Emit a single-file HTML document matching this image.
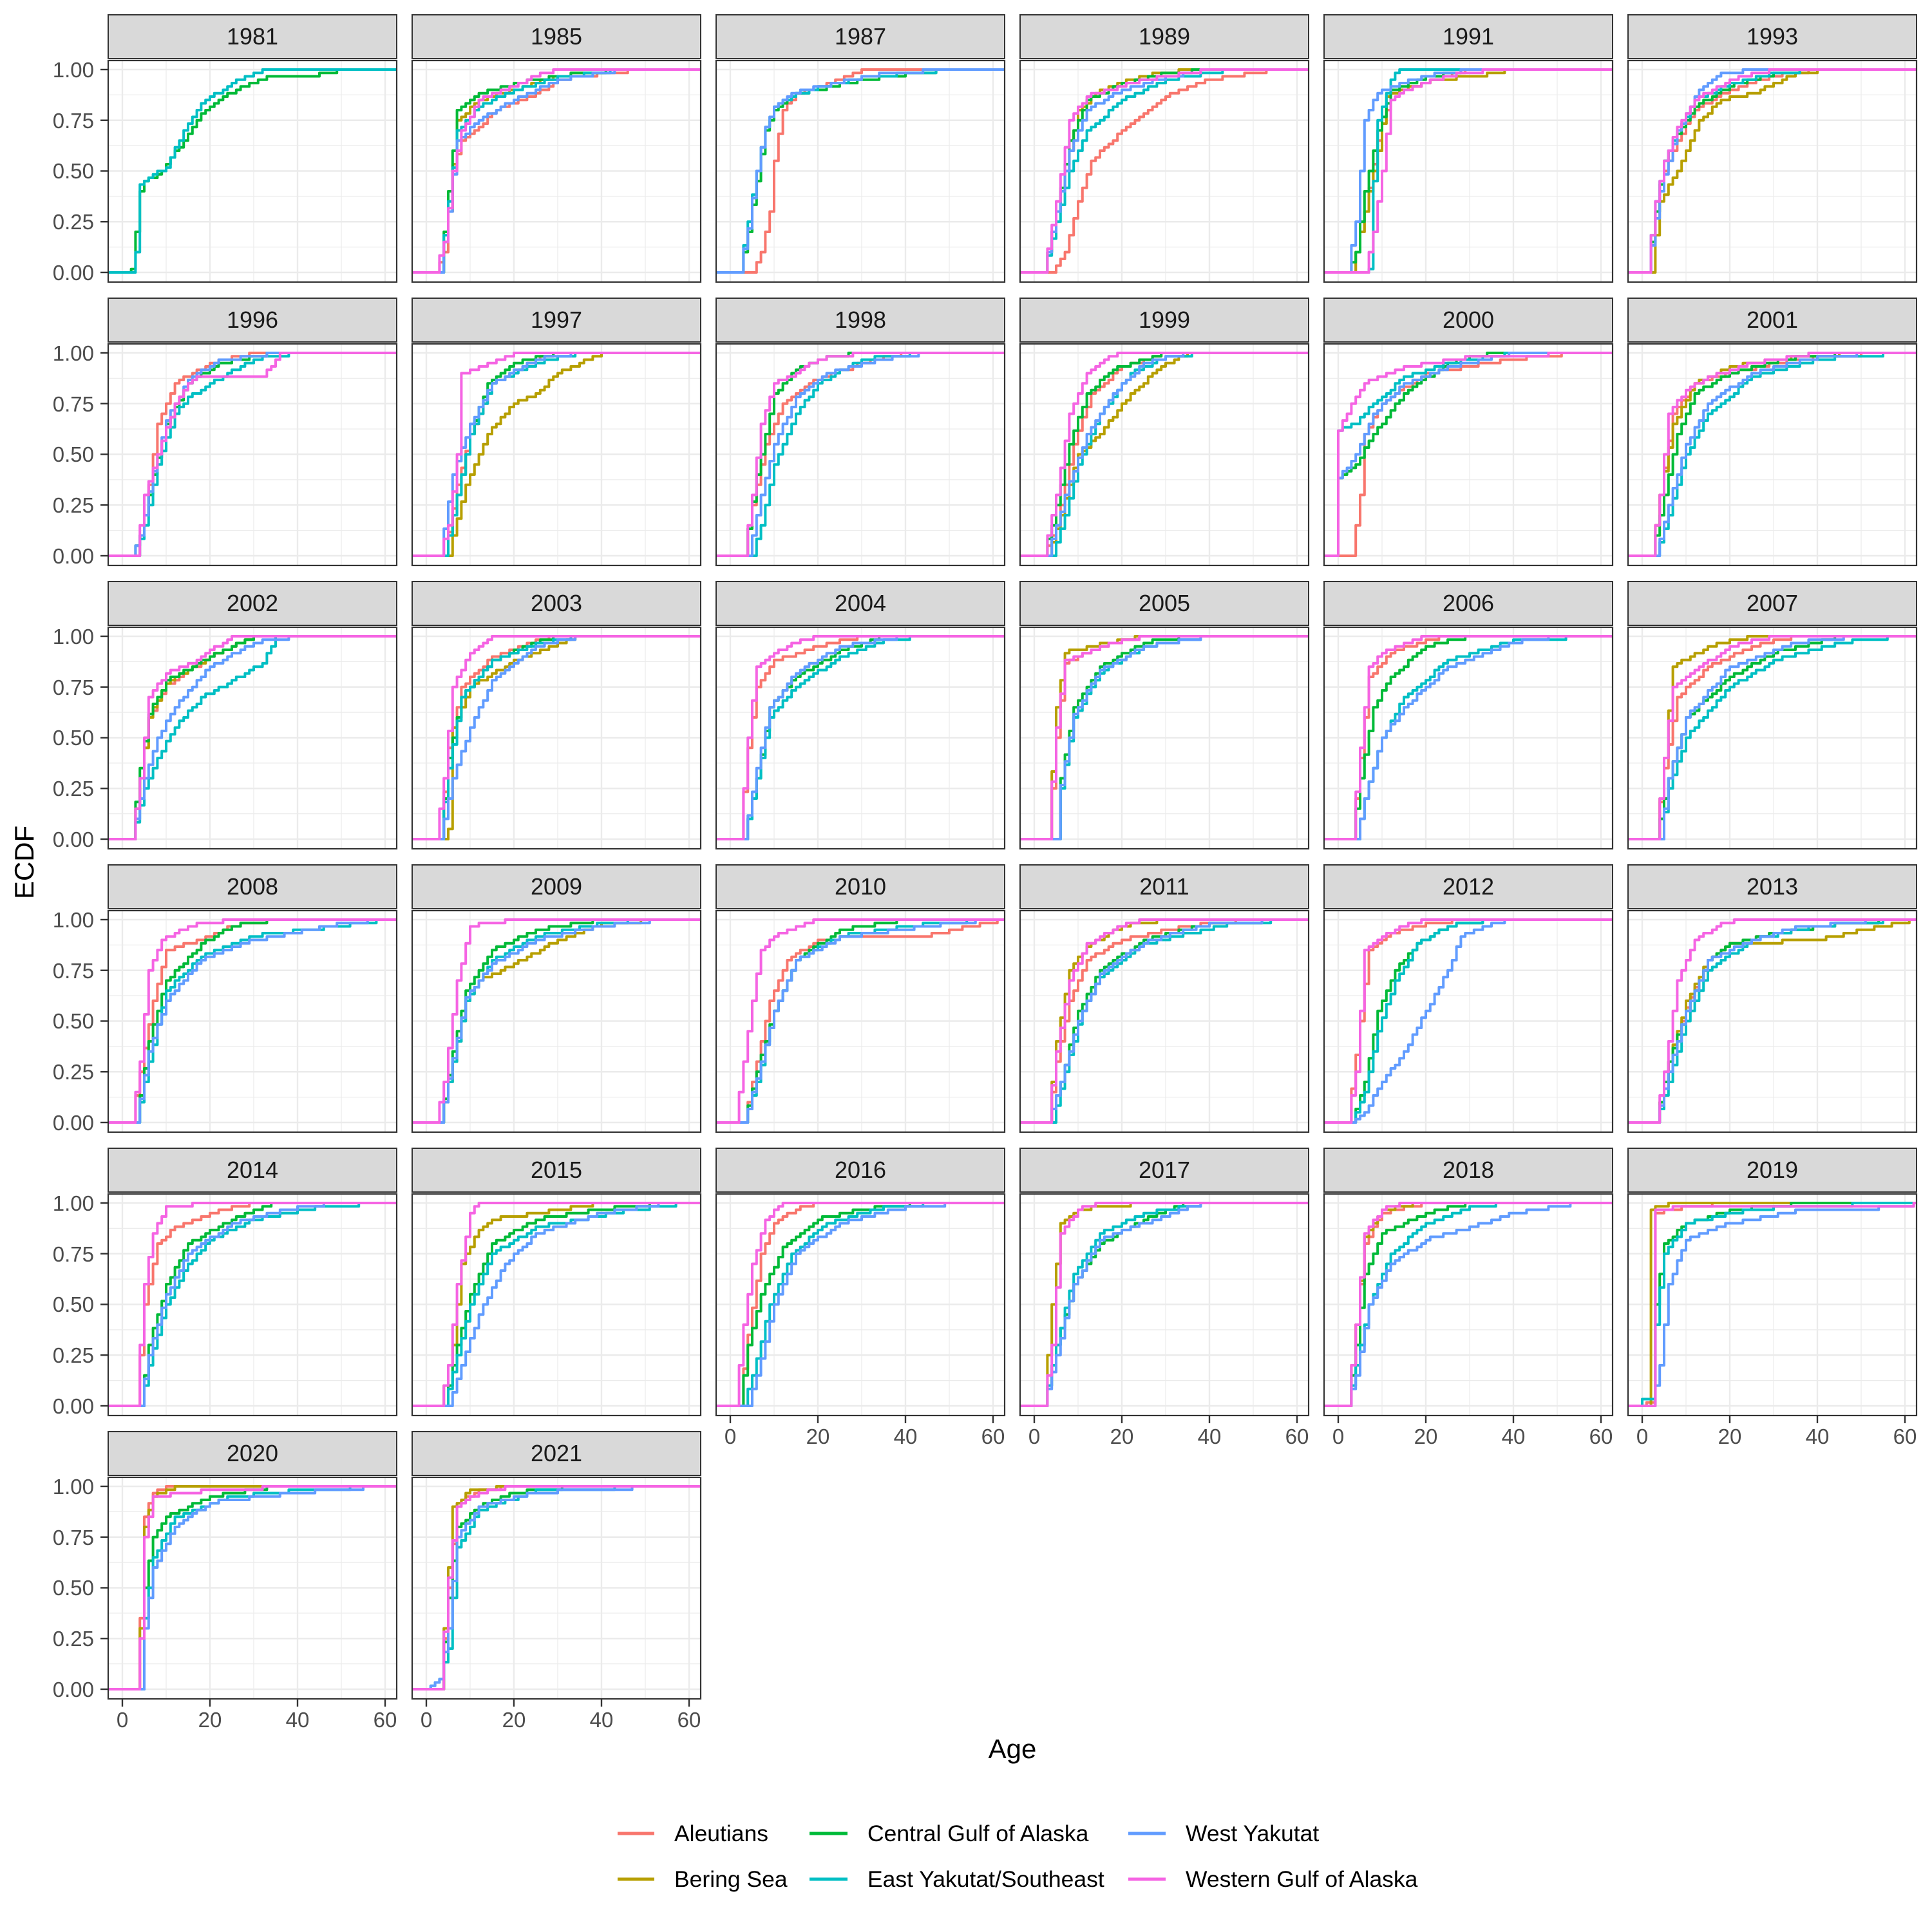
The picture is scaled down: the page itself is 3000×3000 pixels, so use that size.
<!DOCTYPE html>
<html><head><meta charset="utf-8">
<style>
html,body{margin:0;padding:0;background:#fff;}
svg{display:block;}
text{font-family:"Liberation Sans",Arial,sans-serif;}
.yl{font-size:33px;fill:#4d4d4d;text-anchor:end;}
.xl{font-size:33px;fill:#4d4d4d;text-anchor:middle;}
.st{font-size:36px;fill:#1a1a1a;text-anchor:middle;}
.lg{font-size:35.5px;fill:#000;}
</style></head>
<body>
<svg id="s" width="3000" height="3000" viewBox="0 0 3000 3000" xmlns="http://www.w3.org/2000/svg">
<rect width="3000" height="3000" fill="#fff"/>
<g id="plots"></g>
<g id="txt">
<text class="st" x="392" y="69">1981</text><text class="st" x="864" y="69">1985</text><text class="st" x="1336" y="69">1987</text><text class="st" x="1808" y="69">1989</text><text class="st" x="2280" y="69">1991</text><text class="st" x="2752" y="69">1993</text>
<text class="st" x="392" y="509">1996</text><text class="st" x="864" y="509">1997</text><text class="st" x="1336" y="509">1998</text><text class="st" x="1808" y="509">1999</text><text class="st" x="2280" y="509">2000</text><text class="st" x="2752" y="509">2001</text>
<text class="st" x="392" y="949">2002</text><text class="st" x="864" y="949">2003</text><text class="st" x="1336" y="949">2004</text><text class="st" x="1808" y="949">2005</text><text class="st" x="2280" y="949">2006</text><text class="st" x="2752" y="949">2007</text>
<text class="st" x="392" y="1389">2008</text><text class="st" x="864" y="1389">2009</text><text class="st" x="1336" y="1389">2010</text><text class="st" x="1808" y="1389">2011</text><text class="st" x="2280" y="1389">2012</text><text class="st" x="2752" y="1389">2013</text>
<text class="st" x="392" y="1829">2014</text><text class="st" x="864" y="1829">2015</text><text class="st" x="1336" y="1829">2016</text><text class="st" x="1808" y="1829">2017</text><text class="st" x="2280" y="1829">2018</text><text class="st" x="2752" y="1829">2019</text>
<text class="st" x="392" y="2269">2020</text><text class="st" x="864" y="2269">2021</text>
<g>
<text class="yl" x="146" y="120">1.00</text><text class="yl" x="146" y="199">0.75</text><text class="yl" x="146" y="277">0.50</text><text class="yl" x="146" y="356">0.25</text><text class="yl" x="146" y="435">0.00</text>
<text class="yl" x="146" y="560">1.00</text><text class="yl" x="146" y="639">0.75</text><text class="yl" x="146" y="717">0.50</text><text class="yl" x="146" y="796">0.25</text><text class="yl" x="146" y="875">0.00</text>
<text class="yl" x="146" y="1000">1.00</text><text class="yl" x="146" y="1079">0.75</text><text class="yl" x="146" y="1157">0.50</text><text class="yl" x="146" y="1236">0.25</text><text class="yl" x="146" y="1315">0.00</text>
<text class="yl" x="146" y="1440">1.00</text><text class="yl" x="146" y="1519">0.75</text><text class="yl" x="146" y="1597">0.50</text><text class="yl" x="146" y="1676">0.25</text><text class="yl" x="146" y="1755">0.00</text>
<text class="yl" x="146" y="1880">1.00</text><text class="yl" x="146" y="1959">0.75</text><text class="yl" x="146" y="2037">0.50</text><text class="yl" x="146" y="2116">0.25</text><text class="yl" x="146" y="2195">0.00</text>
<text class="yl" x="146" y="2320">1.00</text><text class="yl" x="146" y="2399">0.75</text><text class="yl" x="146" y="2477">0.50</text><text class="yl" x="146" y="2556">0.25</text><text class="yl" x="146" y="2635">0.00</text>
</g>
<g>
<text class="xl" x="190" y="2682">0</text><text class="xl" x="326" y="2682">20</text><text class="xl" x="462" y="2682">40</text><text class="xl" x="598" y="2682">60</text>
<text class="xl" x="662" y="2682">0</text><text class="xl" x="798" y="2682">20</text><text class="xl" x="934" y="2682">40</text><text class="xl" x="1070" y="2682">60</text>
<text class="xl" x="1134" y="2242">0</text><text class="xl" x="1270" y="2242">20</text><text class="xl" x="1406" y="2242">40</text><text class="xl" x="1542" y="2242">60</text>
<text class="xl" x="1606" y="2242">0</text><text class="xl" x="1742" y="2242">20</text><text class="xl" x="1878" y="2242">40</text><text class="xl" x="2014" y="2242">60</text>
<text class="xl" x="2078" y="2242">0</text><text class="xl" x="2214" y="2242">20</text><text class="xl" x="2350" y="2242">40</text><text class="xl" x="2486" y="2242">60</text>
<text class="xl" x="2550" y="2242">0</text><text class="xl" x="2686" y="2242">20</text><text class="xl" x="2822" y="2242">40</text><text class="xl" x="2958" y="2242">60</text>
</g>
<text x="1572" y="2730" style="font-size:42px;fill:#000;text-anchor:middle">Age</text>
<text transform="translate(52,1339) rotate(-90)" style="font-size:42px;fill:#000;text-anchor:middle">ECDF</text>
<line x1="959" y1="2847" x2="1016" y2="2847" stroke="#F8766D" stroke-width="5"/>
<text class="lg" x="1047" y="2859">Aleutians</text>
<line x1="959" y1="2918" x2="1016" y2="2918" stroke="#B79F00" stroke-width="5"/>
<text class="lg" x="1047" y="2930">Bering Sea</text>
<line x1="1257" y1="2847" x2="1316" y2="2847" stroke="#00BA38" stroke-width="5"/>
<text class="lg" x="1347" y="2859">Central Gulf of Alaska</text>
<line x1="1257" y1="2918" x2="1316" y2="2918" stroke="#00BFC4" stroke-width="5"/>
<text class="lg" x="1347" y="2930">East Yakutat/Southeast</text>
<line x1="1752" y1="2847" x2="1810" y2="2847" stroke="#619CFF" stroke-width="5"/>
<text class="lg" x="1841" y="2859">West Yakutat</text>
<line x1="1752" y1="2918" x2="1810" y2="2918" stroke="#F564E3" stroke-width="5"/>
<text class="lg" x="1841" y="2930">Western Gulf of Alaska</text>
</g>
</svg>
<script>
var C={r:"#F8766D",b:"#B79F00",g:"#00BA38",c:"#00BFC4",w:"#619CFF",p:"#F564E3"};
var D=[
{r:"2,0 4,.1 6,.5 8,.65 12,.72 16,.8 25,.88 30,.95 40,.98 50,1",b:"3,0 5,.3 7,.75 12,.85 20,.9 30,.97 45,1",g:"3,0 5,.4 7,.8 12,.88 20,.93 30,.97 45,1",c:"3,0 5,.35 7,.7 12,.82 20,.9 30,.96 45,1",w:"3,0 5,.3 7,.65 12,.75 20,.85 30,.95 45,1",p:"2,0 4,.15 6,.5 8,.7 12,.85 20,.92 25,.97 30,1"},
{r:"5,0 7,.1 9,.3 10,.55 12,.8 15,.88 25,.95 30,1",g:"2,0 4,.2 6,.45 8,.7 10,.8 15,.88 20,.9 30,.95 45,.99 55,1",c:"2,0 4,.25 6,.5 8,.72 10,.82 15,.88 22,.92 30,.96 45,.99 55,1",w:"2,0 4,.22 6,.5 8,.72 10,.82 15,.89 25,.94 35,.98 50,1"},
{r:"4,0 7,.1 10,.35 13,.55 20,.7 25,.78 30,.87 40,.95 55,1",b:"2,0 5,.3 8,.6 10,.8 15,.9 25,.97 35,1",g:"2,0 5,.3 8,.65 12,.85 20,.93 30,.98 40,1",c:"2,0 5,.25 8,.5 12,.7 20,.85 30,.95 45,1",w:"2,0 5,.3 8,.6 12,.8 20,.9 30,.96 40,1",p:"2,0 5,.35 8,.75 12,.87 25,.95 40,1"},
{r:"3,0 6,.3 9,.65 12,.88 20,.94 30,1",b:"3,0 6,.3 9,.6 11,.87 20,.94 35,.98 40,1",g:"2,0 4,.1 6,.4 9,.7 12,.9 20,.96 30,1",c:"5,0 7,.01 7.5,.3 9,.75 12,.95 14,1",w:"2,0 4,.25 6,.75 8,.85 10,.9 20,.97 30,1",p:"6,0 8,.2 10,.5 12,.85 15,.9 25,.97 35,1"},
{r:"1,0 3,.3 5,.5 8,.65 12,.8 20,.9 30,.97 40,1",b:"2,0 4,.35 8,.5 13,.75 18,.85 25,.88 30,.93 35,.98 42,1",g:"1,0 3,.3 5,.55 8,.68 12,.82 20,.92 30,.98 40,1",c:"1,0 3,.35 5,.55 8,.7 12,.85 20,.93 30,.98 40,1",w:"1,0 4,.4 8,.7 13,.9 18,.98 25,1",p:"1,0 3,.35 5,.55 8,.72 12,.85 20,.95 30,1"},
{r:"3,0 5,.2 8,.65 12,.85 20,.95 30,1",p:"3,0 5,.3 8,.5 12,.75 15,.85 17,.88 32,.88 36,1",g:"2,0 4,.1 7,.4 10,.65 15,.85 22,.95 35,1",c:"3,0 5,.15 8,.45 12,.7 15,.78 20,.85 30,.97 40,1",w:"2,0 4,.1 7,.42 10,.67 15,.87 22,.96 35,1"},
{p:"3,0 5,.15 7,.5 8,.9 15,.95 20,1",b:"5,0 6,.1 9,.35 14,.6 20,.75 25,.8 30,.9 40,1",g:"4,0 7,.3 10,.6 14,.85 20,.95 30,1",c:"4,0 7,.3 10,.6 15,.85 25,.95 35,1",w:"3,0 6,.4 10,.65 15,.85 25,.97 35,1",r:"4,0 7,.35 10,.6 15,.85 25,.97 30,1"},
{p:"3,0 5,.3 7,.65 10,.85 15,.9 20,.97 30,1",r:"3,0 5,.25 8,.55 12,.75 18,.85 30,.95 40,1",g:"3,0 6,.4 10,.8 15,.92 22,.98 30,1",c:"5,0 7,.15 10,.45 15,.7 20,.85 30,.97 45,1",w:"4,0 7,.3 10,.55 15,.78 22,.9 35,.97 45,1"},
{p:"2,0 5,.3 8,.7 12,.9 17,.98 20,1",g:"2,0 4,.15 8,.55 12,.8 18,.92 30,1",r:"2,0 5,.15 9,.55 13,.8 20,.93 30,1",b:"3,0 6,.2 10,.5 15,.6 20,.75 28,.92 35,1",c:"4,0 7,.2 10,.45 15,.7 22,.9 30,.98 40,1",w:"3,0 7,.3 12,.6 18,.8 25,.95 35,1"},
{p:"-1,0 0,.62 3,.75 6,.85 15,.93 30,.98 60,1",r:"3,0 5,.3 6,.6 10,.75 20,.9 40,.97 55,1",c:"-1,0 0,.62 4,.65 8,.75 15,.88 25,.95 40,1",g:"-1,0 0,.38 4,.45 8,.6 15,.8 25,.95 35,1",w:"-1,0 0,.38 4,.5 8,.7 15,.85 25,.93 40,1"},
{p:"2,0 4,.3 6,.7 10,.82 15,.88 25,.95 40,1",b:"2,0 4,.3 7,.65 12,.85 20,.93 30,.97 50,1",g:"2,0 5,.3 8,.6 12,.8 20,.9 35,.98 50,1",r:"2,0 4,.3 7,.7 12,.85 20,.9 35,.97 55,1",c:"3,0 6,.2 10,.5 15,.7 25,.88 40,.97 60,1",w:"3,0 6,.25 10,.55 15,.75 25,.9 40,.98 55,1"},
{p:"2,0 4,.3 6,.7 10,.82 15,.86 20,.93 25,1",g:"2,0 4,.35 6,.62 10,.78 20,.9 30,1",r:"2,0 4,.3 6,.6 10,.76 20,.9 30,1",b:"2,0 4,.3 6,.6 10,.77 20,.9 30,1",w:"2,0 5,.3 8,.5 12,.65 20,.85 30,.97 40,1",c:"2,0 5,.25 8,.4 12,.55 18,.7 25,.78 32,.87 35,1"},
{p:"2,0 4,.3 6,.75 10,.92 15,1",b:"4,0 5,.05 6,.55 10,.75 20,.88 28,.95 35,1",g:"3,0 5,.4 8,.7 15,.88 25,.97 30,1",c:"3,0 5,.35 8,.7 15,.88 25,.96 35,1",w:"3,0 6,.3 10,.55 15,.78 25,.95 35,1",r:"3,0 5,.45 8,.75 15,.9 25,.98 30,1"},
{p:"2,0 4,.5 6,.85 10,.92 15,.97 20,1",r:"2,0 4,.45 6,.75 10,.88 20,.95 30,1",g:"3,0 6,.3 9,.65 15,.8 25,.93 35,1",c:"3,0 6,.3 9,.6 15,.75 25,.9 35,.98 45,1",w:"3,0 6,.35 9,.65 15,.82 25,.95 40,1"},
{b:"3,0 5,.65 7,.92 15,.96 25,1",p:"3,0 5,.55 7,.88 15,.95 25,1",r:"3,0 5,.5 7,.87 15,.95 25,1",g:"5,0 6,.3 9,.65 15,.85 25,.97 35,1",c:"5,0 6,.25 9,.6 15,.82 25,.95 40,1",w:"5,0 6,.27 9,.62 15,.83 25,.95 40,1"},
{p:"3,0 5,.45 7,.85 10,.92 20,1",r:"3,0 5,.4 7,.8 12,.92 20,.98 25,1",g:"3,0 5,.3 8,.65 12,.8 20,.95 30,1",c:"4,0 6,.2 10,.5 15,.7 25,.88 40,.98 60,1",w:"4,0 6,.2 10,.5 15,.65 25,.85 40,.97 50,1"},
{b:"3,0 5,.4 7,.85 15,.95 25,1",p:"3,0 5,.4 7,.75 12,.83 20,.95 30,1",r:"3,0 5,.35 8,.7 15,.85 25,.95 35,1",g:"3,0 6,.3 10,.6 20,.8 30,.92 45,1",c:"4,0 6,.25 10,.5 20,.75 30,.88 45,.97 60,1",w:"4,0 6,.3 10,.6 20,.85 35,.97 50,1"},
{p:"2,0 4,.3 6,.75 9,.9 15,.97 25,1",r:"2,0 4,.25 7,.6 10,.85 18,.9 25,.97 35,1",g:"3,0 6,.4 10,.7 18,.88 25,.97 35,1",c:"3,0 6,.3 10,.65 18,.82 30,.92 50,.97 60,1",w:"3,0 6,.35 10,.6 18,.8 30,.9 50,.98 60,1"},
{p:"2,0 4,.2 7,.7 10,.97 20,1",b:"3,0 6,.3 9,.6 12,.7 20,.78 30,.9 40,.98 55,1",g:"3,0 6,.35 9,.65 15,.85 25,.95 40,1",c:"3,0 6,.3 9,.6 15,.8 25,.92 40,.98 50,1",w:"3,0 6,.32 9,.62 15,.78 25,.9 40,.97 55,1"},
{p:"1,0 3,.3 5,.6 7,.85 10,.92 20,1",r:"3,0 6,.3 9,.6 13,.8 20,.9 30,.92 45,.92 55,.97 62,1",g:"3,0 6,.25 10,.55 15,.8 25,.95 40,1",c:"3,0 6,.2 10,.55 15,.8 25,.92 45,.98 60,1",w:"3,0 6,.22 10,.55 15,.8 25,.91 45,.97 60,1"},
{b:"3,0 5,.4 8,.75 12,.87 20,.97 30,1",p:"3,0 5,.35 8,.7 12,.88 20,.97 25,1",r:"3,0 5,.3 8,.6 12,.8 20,.9 35,.97 50,1",g:"3,0 6,.2 10,.55 15,.75 25,.9 40,.98 60,1",c:"4,0 7,.25 11,.55 15,.72 25,.88 45,.98 60,1",w:"3,0 6,.2 10,.5 15,.73 25,.89 40,.98 60,1"},
{p:"2,0 4,.25 6,.85 10,.92 15,.97 20,1",r:"2,0 5,.5 7,.85 12,.93 20,.98 30,1",g:"3,0 6,.2 9,.55 13,.75 18,.88 25,.97 35,1",c:"3,0 6,.15 9,.45 13,.7 18,.88 25,.97 35,1",w:"3,0 6,.05 10,.2 15,.35 20,.55 25,.75 28,.92 35,.98 40,1"},
{p:"3,0 5,.25 8,.7 12,.9 18,.98 22,1",g:"3,0 6,.3 10,.55 15,.8 20,.88 30,.93 45,.98 60,1",b:"3,0 6,.3 10,.6 15,.8 20,.88 40,.9 55,.97 62,1",c:"3,0 6,.2 10,.5 15,.75 25,.9 40,.97 60,1",w:"3,0 6,.25 10,.55 15,.8 25,.9 35,.96 55,1",r:"3,0 6,.3 10,.57 15,.8 20,.88 30,.93 45,.98 60,1"},
{p:"3,0 5,.6 7,.85 10,.98 20,1",r:"3,0 5,.5 8,.8 12,.88 20,.95 30,1",g:"4,0 6,.3 10,.6 15,.8 25,.92 35,1",c:"4,0 6,.2 10,.5 15,.7 20,.82 30,.92 45,.98 60,1",w:"4,0 6,.25 10,.55 15,.75 25,.9 40,.98 50,1"},
{p:"3,0 5,.2 7,.6 10,.95 12,1",b:"3,0 6,.3 8,.7 12,.87 15,.92 25,.95 40,1",g:"4,0 7,.3 10,.55 15,.8 25,.92 40,.97 55,1",c:"4,0 7,.25 10,.5 15,.75 25,.88 45,.96 60,1",w:"5,0 8,.2 12,.45 18,.7 25,.85 40,.95 55,1"},
{p:"1,0 3,.4 5,.7 8,.92 12,1",r:"2,0 4,.35 7,.75 10,.9 15,.97 20,1",g:"2,0 4,.3 7,.55 12,.78 20,.92 30,.97 45,1",c:"3,0 5,.15 9,.5 14,.75 22,.9 35,.98 50,1",w:"4,0 6,.15 10,.5 15,.75 25,.9 40,.98 55,1"},
{b:"2,0 4,.5 6,.9 10,.97 20,.99 30,1",p:"2,0 4,.3 6,.85 10,.97 15,1",g:"2,0 5,.3 9,.6 15,.8 25,.92 35,1",c:"2,0 5,.3 9,.65 15,.85 25,.95 40,1",w:"2,0 5,.25 9,.6 15,.82 25,.9 35,.98 40,1"},
{p:"2,0 4,.4 6,.85 10,.97 15,1",r:"2,0 4,.4 6,.8 10,.95 20,1",b:"2,0 4,.4 6,.83 10,.96 18,1",g:"2,0 4,.3 6,.65 10,.85 20,.95 30,1",c:"2,0 4,.2 7,.5 12,.75 20,.9 30,.98 40,1",w:"2,0 4,.15 7,.5 12,.7 20,.82 30,.88 40,.95 55,1"},
{b:"1,0 2,.97 5,.99 8,1",p:"2,0 3,.97 10,.98 60,.98 62,1",r:"0,0 1,.02 2,.02 3,.95 10,.98 20,1",g:"2,0 3,.5 5,.8 10,.9 20,.96 30,.99 50,1",c:"-1,0 0,.03 2,.03 3,.4 5,.75 10,.9 25,.97 45,.99 60,1",w:"2,0 4,.2 6,.6 10,.82 20,.9 35,.96 60,.98 62,1"},
{r:"3,0 4,.35 5,.85 7,.97 10,1",b:"3,0 4,.3 5,.8 7,.95 12,1",p:"3,0 4,.25 5,.75 7,.95 20,.98 40,1",g:"4,0 5,.5 7,.75 10,.85 20,.95 35,1",c:"4,0 5,.35 7,.65 12,.85 25,.95 40,.98 60,1",w:"4,0 5,.3 7,.6 12,.8 20,.92 40,.97 60,1"},
{b:"3,0 4,.3 6,.9 10,.98 20,1",r:"3,0 5,.5 7,.92 12,.98 20,1",p:"3,0 5,.55 7,.9 12,.97 20,1",g:"3,0 5,.45 7,.8 12,.9 20,.97 35,1",c:"0,0 1,.02 3,.05 5,.2 7,.7 12,.88 25,.98 55,1",w:"0,0 1,.02 3,.05 5,.3 7,.75 12,.9 25,.97 55,1"}
];
D.unshift({g:"1,0 2,.02 3,.2 4,.4 5,.45 8,.48 13,.62 18,.78 23,.87 28,.92 33,.96 43,.97 48,.99 53,1",c:"2,0 3,.1 4,.44 6,.47 10,.52 14,.7 18,.84 23,.9 26,.95 30,.98 33,1"});
var NS="http://www.w3.org/2000/svg",G=document.getElementById("plots");
function el(t,a){var e=document.createElementNS(NS,t);for(var k in a)e.setAttribute(k,a[k]);G.appendChild(e);return e;}
function interp(P,a){if(a<=P[0][0])return 0;if(a>=P[P.length-1][0])return 1;for(var i=1;i<P.length;i++){if(a<=P[i][0]){var t=(a-P[i-1][0])/(P[i][0]-P[i-1][0]);return P[i-1][1]+t*(P[i][1]-P[i-1][1]);}}return 1;}
var order=["r","b","g","c","w","p"];
for(var i=0;i<32;i++){
  var r=Math.floor(i/6),c=i%6,L=168+472*c,T=23+440*r,B=T+415,R=L+448;
  var X=function(a){return L+22+6.8*a;},Y=function(v){return T+400-315*v;};
  el("rect",{x:L,y:T,width:448,height:68,fill:"#d9d9d9",stroke:"#333",'stroke-width':2});
  el("rect",{x:L,y:T+71,width:448,height:344,fill:"#fff"});
  [10,30,50].forEach(function(a){el("line",{x1:X(a),x2:X(a),y1:T+71,y2:B,stroke:"#ebebeb",'stroke-width':1.2});});
  [.125,.375,.625,.875].forEach(function(v){el("line",{x1:L,x2:R,y1:Y(v),y2:Y(v),stroke:"#ebebeb",'stroke-width':1.2});});
  [0,20,40,60].forEach(function(a){el("line",{x1:X(a),x2:X(a),y1:T+71,y2:B,stroke:"#ebebeb",'stroke-width':2.4});});
  [0,.25,.5,.75,1].forEach(function(v){el("line",{x1:L,x2:R,y1:Y(v),y2:Y(v),stroke:"#ebebeb",'stroke-width':2.4});});
  var d=D[i];
  order.forEach(function(k){
    if(!d[k])return;
    var P=d[k].split(" ").map(function(s){var q=s.split(",");return [parseFloat(q[0]),parseFloat(q[1])];});
    var s="M"+(L+1)+","+Y(0).toFixed(1),prev=0;
    for(var a=-3;a<=63;a++){
      var v=Math.round(interp(P,a)*60)/60;
      var xx=Math.min(X(a),R-1);
      if(v!==prev){s+=" H"+xx.toFixed(1)+" V"+Y(v).toFixed(1);prev=v;}
    }
    s+=" H"+(R-1);
    el("path",{d:s,fill:"none",stroke:C[k],'stroke-width':4,'stroke-linejoin':'round'});
  });
  el("rect",{x:L,y:T+71,width:448,height:344,fill:"none",stroke:"#333",'stroke-width':2.2});
  if(c===0){[0,.25,.5,.75,1].forEach(function(v){el("line",{x1:156,x2:L,y1:Y(v),y2:Y(v),stroke:"#333",'stroke-width':2.4});});}
  if(r===5||(r===4&&c>=2)){[0,20,40,60].forEach(function(a){el("line",{x1:X(a),x2:X(a),y1:B,y2:B+12,stroke:"#333",'stroke-width':2.4});});}
}
</script>
</body></html>
